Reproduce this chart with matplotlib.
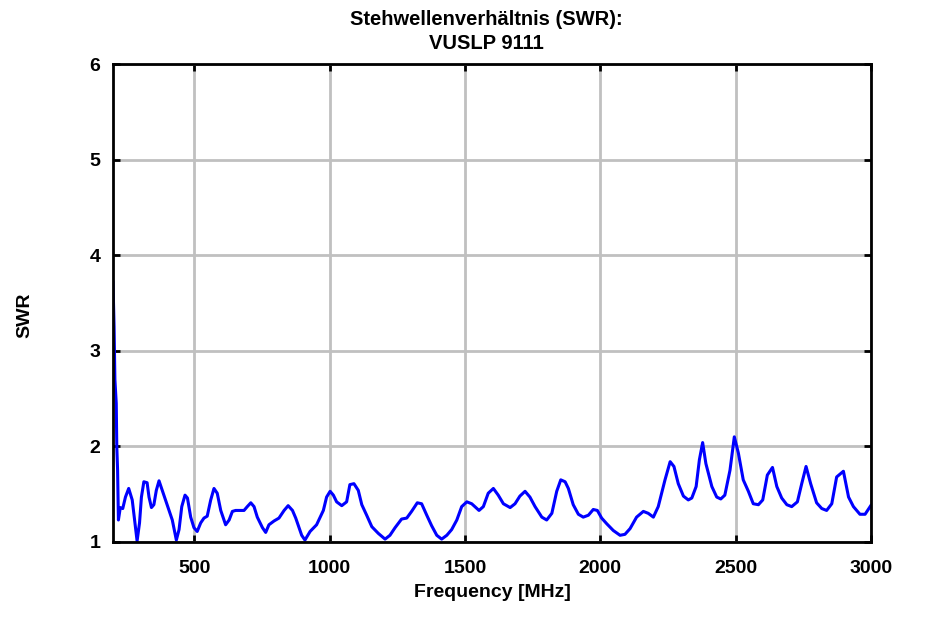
import matplotlib
matplotlib.use('Agg')
import matplotlib.pyplot as plt

# Frequency [MHz] and SWR values
freq = [200, 204, 207, 212, 214, 217, 220, 227, 236, 246, 258, 271, 281, 289, 298,
        305, 314, 326, 333, 342, 351, 360, 370, 382, 394, 407, 419, 434, 444, 454,
        466, 475, 487, 499, 511, 524, 536, 548, 561, 573, 585, 598, 616, 629, 641,
        653, 684, 696, 709, 721, 733, 752, 764, 776, 795, 813, 832, 847, 863, 875,
        887, 897, 909, 928, 952, 977, 989, 1002, 1014, 1026, 1045, 1063, 1075, 1090,
        1106, 1119, 1137, 1156, 1180, 1205, 1223, 1242, 1266, 1285, 1303, 1324, 1340,
        1359, 1377, 1396, 1414, 1433, 1451, 1470, 1488, 1507, 1525, 1552, 1568, 1586,
        1605, 1623, 1642, 1667, 1685, 1703, 1722, 1740, 1759, 1784, 1802, 1821, 1839,
        1854, 1870, 1882, 1900, 1919, 1937, 1956, 1974, 1989, 2005, 2024, 2048, 2073,
        2091, 2110, 2134, 2159, 2177, 2196, 2214, 2239, 2258, 2272, 2288, 2307, 2325,
        2338, 2354, 2366, 2378, 2390, 2412, 2430, 2445, 2460, 2479, 2495, 2510, 2528,
        2547, 2565, 2584, 2600, 2617, 2636, 2652, 2670, 2689, 2707, 2728, 2744, 2760,
        2777, 2799, 2818, 2836, 2855, 2873, 2898, 2917, 2935, 2959, 2978, 2999]
swr = [3.72, 3.25, 2.70, 2.45, 2.00, 1.75, 1.23, 1.36, 1.35, 1.47, 1.56, 1.44, 1.20, 1.01, 1.20,
       1.47, 1.63, 1.62, 1.47, 1.36, 1.39, 1.54, 1.64, 1.54, 1.44, 1.33, 1.23, 1.02, 1.13, 1.37,
       1.49, 1.46, 1.26, 1.15, 1.11, 1.20, 1.25, 1.27, 1.44, 1.56, 1.51, 1.33, 1.18, 1.23, 1.32,
       1.33, 1.33, 1.37, 1.41, 1.37, 1.26, 1.15, 1.10, 1.18, 1.22, 1.25, 1.33, 1.38, 1.33, 1.25,
       1.15, 1.07, 1.02, 1.11, 1.18, 1.33, 1.47, 1.53, 1.49, 1.42, 1.38, 1.42, 1.60, 1.61,
       1.54, 1.39, 1.28, 1.16, 1.09, 1.03, 1.07, 1.15, 1.24, 1.25, 1.32, 1.41, 1.40,
       1.28, 1.17, 1.07, 1.03, 1.07, 1.13, 1.23, 1.37, 1.42, 1.40, 1.33, 1.37, 1.51,
       1.56, 1.49, 1.40, 1.36, 1.40, 1.48, 1.53, 1.47, 1.37, 1.26, 1.23, 1.30, 1.53,
       1.65, 1.63, 1.56, 1.39, 1.29, 1.26, 1.28, 1.34, 1.33, 1.25, 1.19, 1.12, 1.07,
       1.08, 1.14, 1.26, 1.32, 1.30, 1.26, 1.37, 1.65, 1.84, 1.79, 1.61, 1.48, 1.44,
       1.46, 1.58, 1.86, 2.04, 1.82, 1.58, 1.47, 1.45, 1.49, 1.75, 2.10, 1.93, 1.65,
       1.53, 1.40, 1.39, 1.44, 1.70, 1.78, 1.58, 1.46, 1.39, 1.37, 1.42, 1.61, 1.79,
       1.61, 1.41, 1.35, 1.33, 1.40, 1.68, 1.74, 1.47, 1.37, 1.29, 1.29, 1.38]

x_ticks = [500, 1000, 1500, 2000, 2500, 3000]
y_ticks = [1, 2, 3, 4, 5, 6]

plt.rcParams['font.family'] = ['Liberation Sans', 'DejaVu Sans']
plt.rcParams['font.weight'] = 'bold'

fig = plt.figure(figsize=(9.44, 6.18), dpi=100)
ax = fig.add_axes([0.1197, 0.123, 0.803, 0.7734])

ax.plot(freq, swr, color='#0000ff', linewidth=2.2, zorder=3)

ax.set_xlim(200, 3000)
ax.set_ylim(1, 6)
ax.set_xticks(x_ticks)
ax.set_yticks(y_ticks)
ax.grid(True, color='#c0c0c0', linewidth=2)
ax.set_axisbelow(True)

ax.tick_params(direction='in', top=True, right=True, length=5, width=2,
               labelsize=14)
ax.tick_params(axis='x', pad=13)
ax.tick_params(axis='y', pad=9)
for lbl in ax.get_xticklabels() + ax.get_yticklabels():
    lbl.set_fontweight('bold')
for s in ax.spines.values():
    s.set_linewidth(2)
    s.set_zorder(4)

ax.set_xlabel('Frequency [MHz]', fontsize=14, fontweight='bold', labelpad=5)
ax.set_ylabel('SWR', fontsize=14, fontweight='bold')
ax.yaxis.set_label_coords(-0.1055, 0.475)
ax.set_title('Stehwellenverhältnis (SWR):\nVUSLP 9111', fontsize=14.5,
             fontweight='bold', pad=11, linespacing=1.3, x=0.492)

fig.savefig('out.png', dpi=100)
